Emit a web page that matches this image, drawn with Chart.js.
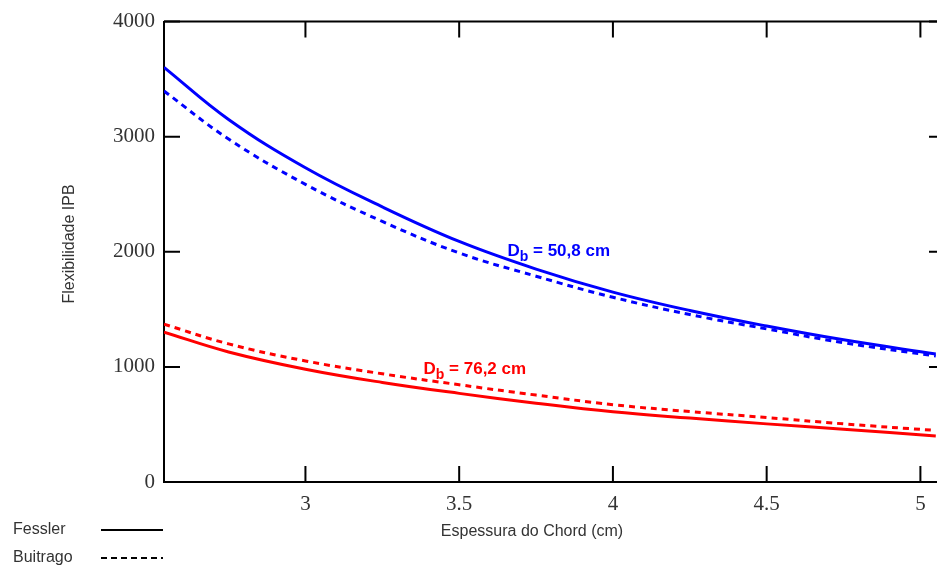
<!DOCTYPE html>
<html>
<head>
    <title>Flexibilidade IPB</title>
    <script src="https://cdn.jsdelivr.net/npm/chart.js"></script>
    <style>
        body {
            margin: 0;
            padding: 0;
            background: white;
            overflow: hidden;
        }
        #chart-container {
            width: 950px;
            height: 569px;
        }
    </style>
</head>
<body>

<div id="chart-container">
    <canvas id="flexChart" width="950" height="569"></canvas>
</div>

<script>
    // chord thickness (cm)
    const thickness = [2.54, 2.75, 3.0, 3.25, 3.5, 3.75, 4.0, 4.25, 4.5, 4.75, 5.05];

    // Db = 50,8 cm
    const fessler508  = [3603, 3150, 2730, 2390, 2090, 1850, 1650, 1490, 1355, 1235, 1112];
    const buitrago508 = [3397, 2980, 2586, 2264, 1990, 1788, 1605, 1455, 1330, 1210, 1095];

    // Db = 76,2 cm
    const fessler762  = [1302, 1130, 980, 865, 770, 685, 610, 555, 505, 458, 400];
    const buitrago762 = [1371, 1200, 1052, 940, 845, 755, 672, 612, 560, 505, 448];

    const xTicks = [3, 3.5, 4, 4.5, 5];
    const yTicks = [0, 1000, 2000, 3000, 4000];

    const curveLabels = [
        { text: 'D', sub: 'b', rest: ' = 50,8 cm', x: 3.657, y: 1965, color: '#0000ff' },
        { text: 'D', sub: 'b', rest: ' = 76,2 cm', x: 3.384, y: 935, color: '#ff0000' }
    ];

    const legendItems = [
        { label: 'Fessler', dash: [] },
        { label: 'Buitrago', dash: [6, 4] }
    ];

    const toPoints = vals => vals.map((v, i) => ({ x: thickness[i], y: v }));

    const serif = "'Liberation Serif', 'Times New Roman', serif";
    const sans = "'Liberation Sans', Arial, sans-serif";

    // box around the plot with ticks pointing inwards, plus texts
    const framePlugin = {
        id: 'frame',
        afterDraw(chart) {
            const ctx = chart.ctx;
            const a = chart.chartArea;
            const xs = chart.scales.x;
            const ys = chart.scales.y;
            const tl = 16;

            ctx.save();
            ctx.strokeStyle = '#000';
            ctx.lineWidth = 2;
            ctx.beginPath();
            ctx.moveTo(a.left, a.top);
            ctx.lineTo(a.right, a.top);
            ctx.lineTo(a.right, a.bottom);
            ctx.stroke();

            ctx.beginPath();
            yTicks.forEach(v => {
                if (v === 0) return;
                const py = ys.getPixelForValue(v);
                ctx.moveTo(a.left, py);
                ctx.lineTo(a.left + tl, py);
                ctx.moveTo(a.right, py);
                ctx.lineTo(a.right - tl, py);
            });
            xTicks.forEach(v => {
                const px = xs.getPixelForValue(v);
                ctx.moveTo(px, a.bottom);
                ctx.lineTo(px, a.bottom - tl);
                ctx.moveTo(px, a.top);
                ctx.lineTo(px, a.top + tl);
            });
            ctx.stroke();

            // labels next to the curves
            curveLabels.forEach(c => {
                let px = xs.getPixelForValue(c.x);
                const py = ys.getPixelForValue(c.y);
                ctx.fillStyle = c.color;
                ctx.textBaseline = 'alphabetic';
                ctx.textAlign = 'left';
                ctx.font = 'bold 17px ' + sans;
                ctx.fillText(c.text, px, py);
                px += ctx.measureText(c.text).width;
                ctx.font = 'bold 14px ' + sans;
                ctx.fillText(c.sub, px, py + 5);
                px += ctx.measureText(c.sub).width;
                ctx.font = 'bold 17px ' + sans;
                ctx.fillText(c.rest, px, py);
            });

            // axis titles
            ctx.fillStyle = '#333';
            ctx.font = '16px ' + sans;
            ctx.textAlign = 'center';
            ctx.textBaseline = 'middle';
            ctx.fillText('Espessura do Chord (cm)', 532, 532);

            ctx.save();
            ctx.translate(70, 244);
            ctx.rotate(-Math.PI / 2);
            ctx.fillText('Flexibilidade IPB', 0, 0);
            ctx.restore();

            // legend
            legendItems.forEach((item, i) => {
                const ly = 530 + i * 28;
                ctx.fillStyle = '#333';
                ctx.textAlign = 'left';
                ctx.fillText(item.label, 13, ly);
                ctx.strokeStyle = '#000';
                ctx.lineWidth = 2;
                ctx.setLineDash(item.dash);
                ctx.beginPath();
                ctx.moveTo(101, ly);
                ctx.lineTo(163, ly);
                ctx.stroke();
                ctx.setLineDash([]);
            });
            ctx.restore();
        }
    };

    const lineStyle = (label, vals, color, dashed) => ({
        label: label,
        data: toPoints(vals),
        borderColor: color,
        borderWidth: 3,
        borderDash: dashed ? [6, 5] : [],
        pointRadius: 0,
        fill: false,
        tension: 0.4
    });

    new Chart(document.getElementById('flexChart'), {
        type: 'line',
        data: {
            datasets: [
                lineStyle('Fessler 50,8', fessler508, '#0000ff', false),
                lineStyle('Buitrago 50,8', buitrago508, '#0000ff', true),
                lineStyle('Fessler 76,2', fessler762, '#ff0000', false),
                lineStyle('Buitrago 76,2', buitrago762, '#ff0000', true)
            ]
        },
        options: {
            responsive: false,
            animation: false,
            layout: {
                padding: { top: 18, right: 5, left: 0, bottom: 0 }
            },
            plugins: {
                legend: { display: false },
                tooltip: { enabled: false }
            },
            scales: {
                x: {
                    type: 'linear',
                    min: 2.54,
                    max: 5.08,
                    afterBuildTicks: s => { s.ticks = xTicks.map(v => ({ value: v })); },
                    afterFit: s => { s.height = 87; },
                    grid: { display: false, drawTicks: false },
                    border: { display: true, color: '#000', width: 2 },
                    ticks: {
                        padding: 10,
                        color: '#333',
                        font: { family: serif, size: 21 },
                        callback: v => String(v)
                    }
                },
                y: {
                    min: 0,
                    max: 4000,
                    afterBuildTicks: s => { s.ticks = yTicks.map(v => ({ value: v })); },
                    afterFit: s => { s.width = 164; },
                    grid: { display: false, drawTicks: false },
                    border: { display: true, color: '#000', width: 2 },
                    ticks: {
                        padding: 9,
                        color: '#333',
                        font: { family: serif, size: 21 },
                        callback: v => String(v)
                    }
                }
            }
        },
        plugins: [framePlugin]
    });
</script>

</body>
</html>
